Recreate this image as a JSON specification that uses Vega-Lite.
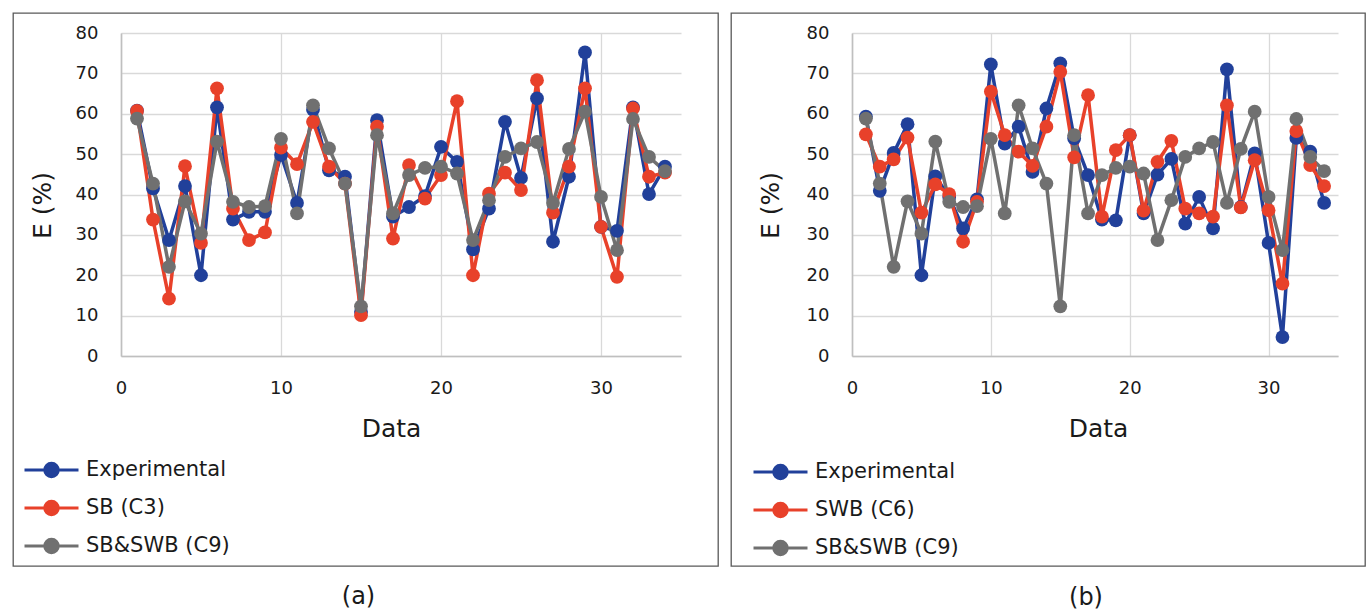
{
  "$schema": "https://vega.github.io/schema/vega-lite/v6.json",
  "padding": {"left": 12, "top": 12, "right": 0, "bottom": 0},
  "spacing": 11,
  "datasets": {
    "a": [
      {"Data":1,"Series":"Experimental","E":60.8},{"Data":2,"Series":"Experimental","E":41.5},{"Data":3,"Series":"Experimental","E":28.7},{"Data":4,"Series":"Experimental","E":42.1},{"Data":5,"Series":"Experimental","E":20.0},{"Data":6,"Series":"Experimental","E":61.6},{"Data":7,"Series":"Experimental","E":33.8},{"Data":8,"Series":"Experimental","E":35.7},{"Data":9,"Series":"Experimental","E":35.7},{"Data":10,"Series":"Experimental","E":49.8},{"Data":11,"Series":"Experimental","E":37.9},{"Data":12,"Series":"Experimental","E":61.0},{"Data":13,"Series":"Experimental","E":46.0},{"Data":14,"Series":"Experimental","E":44.4},{"Data":15,"Series":"Experimental","E":10.9},{"Data":16,"Series":"Experimental","E":58.4},{"Data":17,"Series":"Experimental","E":34.5},{"Data":18,"Series":"Experimental","E":36.9},{"Data":19,"Series":"Experimental","E":39.6},{"Data":20,"Series":"Experimental","E":51.8},{"Data":21,"Series":"Experimental","E":48.1},{"Data":22,"Series":"Experimental","E":26.4},{"Data":23,"Series":"Experimental","E":36.5},{"Data":24,"Series":"Experimental","E":58.0},{"Data":25,"Series":"Experimental","E":44.1},{"Data":26,"Series":"Experimental","E":63.8},{"Data":27,"Series":"Experimental","E":28.3},{"Data":28,"Series":"Experimental","E":44.4},{"Data":29,"Series":"Experimental","E":75.2},{"Data":30,"Series":"Experimental","E":32.0},{"Data":31,"Series":"Experimental","E":31.0},{"Data":32,"Series":"Experimental","E":61.6},{"Data":33,"Series":"Experimental","E":40.1},{"Data":34,"Series":"Experimental","E":46.9},
      {"Data":1,"Series":"SB (C3)","E":60.7},{"Data":2,"Series":"SB (C3)","E":33.8},{"Data":3,"Series":"SB (C3)","E":14.2},{"Data":4,"Series":"SB (C3)","E":47.0},{"Data":5,"Series":"SB (C3)","E":28.0},{"Data":6,"Series":"SB (C3)","E":66.3},{"Data":7,"Series":"SB (C3)","E":36.5},{"Data":8,"Series":"SB (C3)","E":28.7},{"Data":9,"Series":"SB (C3)","E":30.6},{"Data":10,"Series":"SB (C3)","E":51.6},{"Data":11,"Series":"SB (C3)","E":47.5},{"Data":12,"Series":"SB (C3)","E":58.0},{"Data":13,"Series":"SB (C3)","E":46.9},{"Data":14,"Series":"SB (C3)","E":42.7},{"Data":15,"Series":"SB (C3)","E":10.1},{"Data":16,"Series":"SB (C3)","E":56.8},{"Data":17,"Series":"SB (C3)","E":29.1},{"Data":18,"Series":"SB (C3)","E":47.3},{"Data":19,"Series":"SB (C3)","E":39.0},{"Data":20,"Series":"SB (C3)","E":44.8},{"Data":21,"Series":"SB (C3)","E":63.1},{"Data":22,"Series":"SB (C3)","E":20.0},{"Data":23,"Series":"SB (C3)","E":40.2},{"Data":24,"Series":"SB (C3)","E":45.4},{"Data":25,"Series":"SB (C3)","E":41.1},{"Data":26,"Series":"SB (C3)","E":68.3},{"Data":27,"Series":"SB (C3)","E":35.5},{"Data":28,"Series":"SB (C3)","E":46.9},{"Data":29,"Series":"SB (C3)","E":66.3},{"Data":30,"Series":"SB (C3)","E":32.0},{"Data":31,"Series":"SB (C3)","E":19.6},{"Data":32,"Series":"SB (C3)","E":61.3},{"Data":33,"Series":"SB (C3)","E":44.4},{"Data":34,"Series":"SB (C3)","E":45.4},
      {"Data":1,"Series":"SB&SWB (C9)","E":58.8},{"Data":2,"Series":"SB&SWB (C9)","E":42.7},{"Data":3,"Series":"SB&SWB (C9)","E":22.1},{"Data":4,"Series":"SB&SWB (C9)","E":38.3},{"Data":5,"Series":"SB&SWB (C9)","E":30.3},{"Data":6,"Series":"SB&SWB (C9)","E":53.1},{"Data":7,"Series":"SB&SWB (C9)","E":38.2},{"Data":8,"Series":"SB&SWB (C9)","E":36.9},{"Data":9,"Series":"SB&SWB (C9)","E":37.1},{"Data":10,"Series":"SB&SWB (C9)","E":53.8},{"Data":11,"Series":"SB&SWB (C9)","E":35.3},{"Data":12,"Series":"SB&SWB (C9)","E":62.1},{"Data":13,"Series":"SB&SWB (C9)","E":51.4},{"Data":14,"Series":"SB&SWB (C9)","E":42.7},{"Data":15,"Series":"SB&SWB (C9)","E":12.3},{"Data":16,"Series":"SB&SWB (C9)","E":54.7},{"Data":17,"Series":"SB&SWB (C9)","E":35.3},{"Data":18,"Series":"SB&SWB (C9)","E":44.8},{"Data":19,"Series":"SB&SWB (C9)","E":46.6},{"Data":20,"Series":"SB&SWB (C9)","E":46.9},{"Data":21,"Series":"SB&SWB (C9)","E":45.2},{"Data":22,"Series":"SB&SWB (C9)","E":28.7},{"Data":23,"Series":"SB&SWB (C9)","E":38.6},{"Data":24,"Series":"SB&SWB (C9)","E":49.3},{"Data":25,"Series":"SB&SWB (C9)","E":51.4},{"Data":26,"Series":"SB&SWB (C9)","E":53.0},{"Data":27,"Series":"SB&SWB (C9)","E":37.9},{"Data":28,"Series":"SB&SWB (C9)","E":51.3},{"Data":29,"Series":"SB&SWB (C9)","E":60.5},{"Data":30,"Series":"SB&SWB (C9)","E":39.4},{"Data":31,"Series":"SB&SWB (C9)","E":26.2},{"Data":32,"Series":"SB&SWB (C9)","E":58.7},{"Data":33,"Series":"SB&SWB (C9)","E":49.3},{"Data":34,"Series":"SB&SWB (C9)","E":45.8}
    ],
    "b": [
      {"Data":1,"Series":"Experimental","E":59.3},{"Data":2,"Series":"Experimental","E":40.9},{"Data":3,"Series":"Experimental","E":50.3},{"Data":4,"Series":"Experimental","E":57.4},{"Data":5,"Series":"Experimental","E":20.0},{"Data":6,"Series":"Experimental","E":44.5},{"Data":7,"Series":"Experimental","E":39.4},{"Data":8,"Series":"Experimental","E":31.6},{"Data":9,"Series":"Experimental","E":38.8},{"Data":10,"Series":"Experimental","E":72.2},{"Data":11,"Series":"Experimental","E":52.6},{"Data":12,"Series":"Experimental","E":56.8},{"Data":13,"Series":"Experimental","E":45.6},{"Data":14,"Series":"Experimental","E":61.3},{"Data":15,"Series":"Experimental","E":72.5},{"Data":16,"Series":"Experimental","E":53.9},{"Data":17,"Series":"Experimental","E":44.8},{"Data":18,"Series":"Experimental","E":33.8},{"Data":19,"Series":"Experimental","E":33.6},{"Data":20,"Series":"Experimental","E":54.7},{"Data":21,"Series":"Experimental","E":35.3},{"Data":22,"Series":"Experimental","E":44.9},{"Data":23,"Series":"Experimental","E":48.8},{"Data":24,"Series":"Experimental","E":32.8},{"Data":25,"Series":"Experimental","E":39.4},{"Data":26,"Series":"Experimental","E":31.6},{"Data":27,"Series":"Experimental","E":71.0},{"Data":28,"Series":"Experimental","E":36.9},{"Data":29,"Series":"Experimental","E":50.2},{"Data":30,"Series":"Experimental","E":28.0},{"Data":31,"Series":"Experimental","E":4.7},{"Data":32,"Series":"Experimental","E":54.0},{"Data":33,"Series":"Experimental","E":50.6},{"Data":34,"Series":"Experimental","E":37.9},
      {"Data":1,"Series":"SWB (C6)","E":54.9},{"Data":2,"Series":"SWB (C6)","E":46.9},{"Data":3,"Series":"SWB (C6)","E":48.7},{"Data":4,"Series":"SWB (C6)","E":54.1},{"Data":5,"Series":"SWB (C6)","E":35.5},{"Data":6,"Series":"SWB (C6)","E":42.5},{"Data":7,"Series":"SWB (C6)","E":40.1},{"Data":8,"Series":"SWB (C6)","E":28.3},{"Data":9,"Series":"SWB (C6)","E":38.2},{"Data":10,"Series":"SWB (C6)","E":65.5},{"Data":11,"Series":"SWB (C6)","E":54.7},{"Data":12,"Series":"SWB (C6)","E":50.6},{"Data":13,"Series":"SWB (C6)","E":47.1},{"Data":14,"Series":"SWB (C6)","E":56.8},{"Data":15,"Series":"SWB (C6)","E":70.4},{"Data":16,"Series":"SWB (C6)","E":49.2},{"Data":17,"Series":"SWB (C6)","E":64.6},{"Data":18,"Series":"SWB (C6)","E":34.5},{"Data":19,"Series":"SWB (C6)","E":51.0},{"Data":20,"Series":"SWB (C6)","E":54.7},{"Data":21,"Series":"SWB (C6)","E":36.0},{"Data":22,"Series":"SWB (C6)","E":48.1},{"Data":23,"Series":"SWB (C6)","E":53.3},{"Data":24,"Series":"SWB (C6)","E":36.5},{"Data":25,"Series":"SWB (C6)","E":35.3},{"Data":26,"Series":"SWB (C6)","E":34.5},{"Data":27,"Series":"SWB (C6)","E":62.1},{"Data":28,"Series":"SWB (C6)","E":36.8},{"Data":29,"Series":"SWB (C6)","E":48.5},{"Data":30,"Series":"SWB (C6)","E":36.1},{"Data":31,"Series":"SWB (C6)","E":17.9},{"Data":32,"Series":"SWB (C6)","E":55.7},{"Data":33,"Series":"SWB (C6)","E":47.3},{"Data":34,"Series":"SWB (C6)","E":42.1},
      {"Data":1,"Series":"SB&SWB (C9)","E":58.8},{"Data":2,"Series":"SB&SWB (C9)","E":42.7},{"Data":3,"Series":"SB&SWB (C9)","E":22.1},{"Data":4,"Series":"SB&SWB (C9)","E":38.3},{"Data":5,"Series":"SB&SWB (C9)","E":30.3},{"Data":6,"Series":"SB&SWB (C9)","E":53.1},{"Data":7,"Series":"SB&SWB (C9)","E":38.2},{"Data":8,"Series":"SB&SWB (C9)","E":36.9},{"Data":9,"Series":"SB&SWB (C9)","E":37.1},{"Data":10,"Series":"SB&SWB (C9)","E":53.8},{"Data":11,"Series":"SB&SWB (C9)","E":35.3},{"Data":12,"Series":"SB&SWB (C9)","E":62.1},{"Data":13,"Series":"SB&SWB (C9)","E":51.4},{"Data":14,"Series":"SB&SWB (C9)","E":42.7},{"Data":15,"Series":"SB&SWB (C9)","E":12.3},{"Data":16,"Series":"SB&SWB (C9)","E":54.7},{"Data":17,"Series":"SB&SWB (C9)","E":35.3},{"Data":18,"Series":"SB&SWB (C9)","E":44.8},{"Data":19,"Series":"SB&SWB (C9)","E":46.6},{"Data":20,"Series":"SB&SWB (C9)","E":46.9},{"Data":21,"Series":"SB&SWB (C9)","E":45.2},{"Data":22,"Series":"SB&SWB (C9)","E":28.7},{"Data":23,"Series":"SB&SWB (C9)","E":38.6},{"Data":24,"Series":"SB&SWB (C9)","E":49.3},{"Data":25,"Series":"SB&SWB (C9)","E":51.4},{"Data":26,"Series":"SB&SWB (C9)","E":53.0},{"Data":27,"Series":"SB&SWB (C9)","E":37.9},{"Data":28,"Series":"SB&SWB (C9)","E":51.3},{"Data":29,"Series":"SB&SWB (C9)","E":60.5},{"Data":30,"Series":"SB&SWB (C9)","E":39.4},{"Data":31,"Series":"SB&SWB (C9)","E":26.2},{"Data":32,"Series":"SB&SWB (C9)","E":58.7},{"Data":33,"Series":"SB&SWB (C9)","E":49.3},{"Data":34,"Series":"SB&SWB (C9)","E":45.8}
    ]
  },
  "hconcat": [
    {
      "name": "pa",
      "width": 705,
      "height": 553,
      "data": {"name": "a"},
      "title": {"text": "(a)", "orient": "bottom", "anchor": "middle", "offset": 31, "baseline": "middle", "fontSize": 24, "fontWeight": "normal", "dx": -7, "color": "#1a1a1a"},
      "encoding": {
        "y": {"field": "E", "type": "quantitative",
          "scale": {"domain": [0, 80], "range": [343, 20], "nice": false},
          "axis": {"offset": -108, "values": [0, 10, 20, 30, 40, 50, 60, 70, 80], "labelPadding": 23, "title": "E (%)", "titleFontSize": 25, "titleX": -79, "titleY": 192, "titleBaseline": "middle"}}
      },
      "layer": [
        {
          "mark": {"type": "point", "opacity": 0},
          "encoding": {
            "x": {"field": "Data", "type": "quantitative",
              "scale": {"domain": [0, 35], "range": [108, 668], "nice": false, "zero": false},
              "axis": {"orient": "top", "values": [0, 10, 20, 30], "grid": true, "domain": false, "labels": false, "title": null}}
          }
        },
        {
          "mark": {"type": "line", "strokeWidth": 3.5, "point": {"filled": true, "size": 190, "opacity": 1}},
          "encoding": {
            "x": {"field": "Data", "type": "quantitative",
              "scale": {"domain": [0, 35], "range": [108, 668], "nice": false, "zero": false},
              "axis": {"orient": "bottom", "offset": -210, "grid": false, "values": [0, 10, 20, 30], "labelPadding": 32, "labelBaseline": "middle", "title": "Data", "titleFontSize": 25, "titleX": 378, "titleY": 72, "titleBaseline": "middle"}},
            "color": {"field": "Series", "type": "nominal", "sort": null,
              "scale": {"domain": ["Experimental", "SB (C3)", "SB&SWB (C9)"], "range": ["#21409A", "#E8412A", "#707070"]},
              "legend": {"title": null, "orient": "none", "legendX": 10, "legendY": 438, "padding": 0,
                "symbolType": "M-1,0L1,0M0.25,0A0.25,0.25,0,1,1,-0.25,0A0.25,0.25,0,1,1,0.25,0Z",
                "symbolSize": 2916, "symbolStrokeWidth": 3, "clipHeight": 38, "rowPadding": 0,
                "labelFontSize": 21, "labelColor": "#1a1a1a", "labelOffset": 6, "labelLimit": 400,
                "encode": {"symbols": {"update": {
                  "fill": {"signal": "datum.value === 'Experimental' ? '#21409A' : datum.value === 'SB&SWB (C9)' ? '#707070' : '#E8412A'"},
                  "stroke": {"signal": "datum.value === 'Experimental' ? '#21409A' : datum.value === 'SB&SWB (C9)' ? '#707070' : '#E8412A'"},
                  "opacity": {"value": 1}}}}}}
          }
        }
      ],
      "resolve": {"axis": {"x": "independent"}}
    },
    {
      "name": "pb",
      "width": 634,
      "height": 553,
      "data": {"name": "b"},
      "title": {"text": "(b)", "orient": "bottom", "anchor": "middle", "offset": 31, "baseline": "middle", "fontSize": 24, "fontWeight": "normal", "dx": 38, "color": "#1a1a1a"},
      "encoding": {
        "y": {"field": "E", "type": "quantitative",
          "scale": {"domain": [0, 80], "range": [343, 20], "nice": false},
          "axis": {"offset": -121, "values": [0, 10, 20, 30, 40, 50, 60, 70, 80], "labelPadding": 23, "title": "E (%)", "titleFontSize": 25, "titleX": -82, "titleY": 192, "titleBaseline": "middle"}}
      },
      "layer": [
        {
          "mark": {"type": "point", "opacity": 0},
          "encoding": {
            "x": {"field": "Data", "type": "quantitative",
              "scale": {"domain": [0, 35], "range": [121, 607], "nice": false, "zero": false},
              "axis": {"orient": "top", "values": [0, 10, 20, 30], "grid": true, "domain": false, "labels": false, "title": null}}
          }
        },
        {
          "mark": {"type": "line", "strokeWidth": 3.5, "point": {"filled": true, "size": 190, "opacity": 1}},
          "encoding": {
            "x": {"field": "Data", "type": "quantitative",
              "scale": {"domain": [0, 35], "range": [121, 607], "nice": false, "zero": false},
              "axis": {"orient": "bottom", "offset": -210, "grid": false, "values": [0, 10, 20, 30], "labelPadding": 32, "labelBaseline": "middle", "title": "Data", "titleFontSize": 25, "titleX": 367, "titleY": 72, "titleBaseline": "middle"}},
            "color": {"field": "Series", "type": "nominal", "sort": null,
              "scale": {"domain": ["Experimental", "SWB (C6)", "SB&SWB (C9)"], "range": ["#21409A", "#E8412A", "#707070"]},
              "legend": {"title": null, "orient": "none", "legendX": 21, "legendY": 440, "padding": 0,
                "symbolType": "M-1,0L1,0M0.25,0A0.25,0.25,0,1,1,-0.25,0A0.25,0.25,0,1,1,0.25,0Z",
                "symbolSize": 2916, "symbolStrokeWidth": 3, "clipHeight": 38, "rowPadding": 0,
                "labelFontSize": 21, "labelColor": "#1a1a1a", "labelOffset": 6, "labelLimit": 400,
                "encode": {"symbols": {"update": {
                  "fill": {"signal": "datum.value === 'Experimental' ? '#21409A' : datum.value === 'SB&SWB (C9)' ? '#707070' : '#E8412A'"},
                  "stroke": {"signal": "datum.value === 'Experimental' ? '#21409A' : datum.value === 'SB&SWB (C9)' ? '#707070' : '#E8412A'"},
                  "opacity": {"value": 1}}}}}}
          }
        }
      ],
      "resolve": {"axis": {"x": "independent"}}
    }
  ],
  "resolve": {"scale": {"color": "independent"}, "legend": {"color": "independent"}},
  "config": {
    "font": "DejaVu Sans",
    "view": {"stroke": "#595959", "strokeWidth": 1.3},
    "axis": {"grid": true, "gridColor": "#D9D9D9", "gridWidth": 1.3, "domainColor": "#BFBFBF", "domainWidth": 1.6, "ticks": false, "tickSize": 0, "labelFontSize": 18, "labelColor": "#1a1a1a", "titleFontWeight": "normal", "titleColor": "#1a1a1a", "labelFlush": false, "labelOverlap": false}
  }
}
